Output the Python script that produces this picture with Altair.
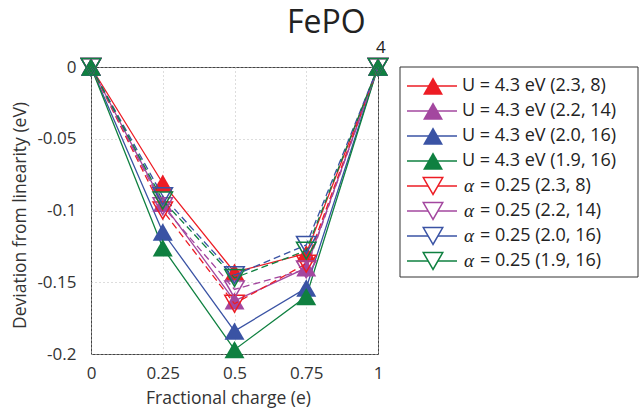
import altair as alt
import pandas as pd

# Fractional charge added to / removed from the cell
charge = [0, 0.25, 0.5, 0.75, 1]

# Series labels (Hubbard U runs first, then alpha runs)
labels = [
    "U = 4.3 eV (2.3, 8)",
    "U = 4.3 eV (2.2, 14)",
    "U = 4.3 eV (2.0, 16)",
    "U = 4.3 eV (1.9, 16)",
    "α = 0.25 (2.3, 8)",
    "α = 0.25 (2.2, 14)",
    "α = 0.25 (2.0, 16)",
    "α = 0.25 (1.9, 16)",
]
kinds = ["U", "U", "U", "U", "alpha", "alpha", "alpha", "alpha"]

# Deviation from linearity (eV) at each fractional charge
u_23_8 = [0, -0.081, -0.143, -0.130, 0]
u_22_14 = [0, -0.095, -0.163, -0.140, 0]
u_20_16 = [0, -0.115, -0.184, -0.154, 0]
u_19_16 = [0, -0.126, -0.197, -0.160, 0]
a_23_8 = [0, -0.100, -0.165, -0.137, 0]
a_22_14 = [0, -0.097, -0.155, -0.141, 0]
a_20_16 = [0, -0.090, -0.145, -0.124, 0]
a_19_16 = [0, -0.093, -0.147, -0.128, 0]
series_values = [u_23_8, u_22_14, u_20_16, u_19_16, a_23_8, a_22_14, a_20_16, a_19_16]

colors = ["#ed1c24", "#a3479f", "#3a53a4", "#0f8040",
          "#ed1c24", "#a3479f", "#3a53a4", "#0f8040"]

x_ticks = [0, 0.25, 0.5, 0.75, 1]
y_ticks = [0, -0.05, -0.1, -0.15, -0.2]

rows = []
for i, (lab, vals) in enumerate(zip(labels, series_values)):
    for q, v in zip(charge, vals):
        rows.append({"series": lab, "idx": i, "kind": kinds[i], "charge": q, "dev": v})
df = pd.DataFrame(rows)

leg_rows = []
for i, lab in enumerate(labels):
    if kinds[i] == "U":
        leg_rows.append({"label": lab, "kind": "U", "prefix": "", "rest": lab})
    else:
        leg_rows.append({"label": lab, "kind": "alpha", "prefix": "α", "rest": lab[2:]})
leg_df = pd.DataFrame(leg_rows)

color_scale = alt.Scale(domain=labels, range=colors)
color = alt.Color("series:N", scale=color_scale, legend=None)

x_enc = alt.X(
    "charge:Q",
    scale=alt.Scale(domain=[0, 1], nice=False, zero=False),
    axis=alt.Axis(values=x_ticks, labelExpr="datum.value + ''",
                  title="Fractional charge (e)", titleY=35, titleX=137,
                  labelPadding=11, labelFlush=False),
)
y_enc = alt.Y(
    "dev:Q",
    scale=alt.Scale(domain=[-0.2, 0], nice=False, zero=False),
    axis=alt.Axis(values=y_ticks, labelExpr="datum.value + ''",
                  title="Deviation from linearity (eV)", titleX=-62, titleY=148,
                  labelPadding=15, labelFlush=False),
)

base = alt.Chart(df)

u_lines = base.transform_filter(alt.datum.kind == "U").mark_line(strokeWidth=1.3).encode(
    x=x_enc, y=y_enc, color=color, order=alt.Order("charge:Q"))
u_points = base.transform_filter(alt.datum.kind == "U").mark_point(
    shape="triangle-up", filled=True, size=400, opacity=1).encode(
    x=x_enc, y=y_enc, color=color)
a_lines = base.transform_filter(alt.datum.kind == "alpha").mark_line(
    strokeWidth=1.3, strokeDash=[7, 4]).encode(
    x=x_enc, y=y_enc, color=color, order=alt.Order("charge:Q"))
a_points = base.transform_filter(alt.datum.kind == "alpha").mark_point(
    shape="triangle-down", filled=False, size=380, strokeWidth=1.5, opacity=1).encode(
    x=x_enc, y=y_enc, color=color)

plot = alt.layer(u_lines, u_points, a_lines, a_points)

# Legend box drawn beside the plot
leg_y = alt.Y("label:N", sort=labels, axis=None,
              scale=alt.Scale(type="point", domain=labels, range=[19, 194], padding=0))
leg_color = alt.Color("label:N", scale=color_scale, legend=None)
leg_base = alt.Chart(leg_df)

leg_box = alt.Chart(alt.Data(values=[{"k": 1}])).mark_rect(
    fill="white", stroke="#333333", strokeWidth=1).encode(
    x=alt.value(309), x2=alt.value(547), y=alt.value(0), y2=alt.value(210))
leg_lines = leg_base.mark_rule(strokeWidth=1.3).encode(
    x=alt.value(316), x2=alt.value(366), y=leg_y, color=leg_color)
leg_up = leg_base.transform_filter(alt.datum.kind == "U").mark_point(
    shape="triangle-up", filled=True, size=400, opacity=1).encode(
    x=alt.value(342), y=leg_y, color=leg_color)
leg_down = leg_base.transform_filter(alt.datum.kind == "alpha").mark_point(
    shape="triangle-down", filled=True, fill="white", size=380, strokeWidth=1.5, opacity=1).encode(
    x=alt.value(342), y=leg_y, stroke=alt.Stroke("label:N", scale=color_scale, legend=None))
leg_text_u = leg_base.transform_filter(alt.datum.kind == "U").mark_text(
    align="left", baseline="middle", fontSize=18, color="#222222").encode(
    x=alt.value(371), y=leg_y, text="rest:N")
leg_alpha = leg_base.transform_filter(alt.datum.kind == "alpha").mark_text(
    align="left", baseline="middle", fontSize=19, font="Liberation Serif",
    fontStyle="italic", color="#222222").encode(
    x=alt.value(373), y=leg_y, text="prefix:N")
leg_text_a = leg_base.transform_filter(alt.datum.kind == "alpha").mark_text(
    align="left", baseline="middle", fontSize=18, color="#222222").encode(
    x=alt.value(389), y=leg_y, text="rest:N")

legend = alt.layer(leg_box, leg_lines, leg_up, leg_down, leg_text_u, leg_alpha, leg_text_a)

# Title: formula with lowered subscript
one = alt.Data(values=[{"k": 1}])
title_main = alt.Chart(one).mark_text(
    align="left", baseline="alphabetic", fontSize=32, color="#222222").encode(
    x=alt.value(196), y=alt.value(-34), text=alt.value("FePO"))
title_sub = alt.Chart(one).mark_text(
    align="left", baseline="alphabetic", fontSize=17, color="#222222").encode(
    x=alt.value(285), y=alt.value(-14), text=alt.value("4"))

chart = alt.layer(
    plot, legend, title_main, title_sub,
).resolve_scale(
    y="independent"
).properties(
    width=287, height=287,
    autosize=alt.AutoSizeParams(type="none"),
    padding={"left": 91, "top": 67, "right": 262, "bottom": 62},
).configure(
    font="Open Sans",
).configure_view(
    stroke="#444444", strokeWidth=1,
).configure_axis(
    grid=True, gridColor="#bbbbbb", gridDash=[1, 3], gridWidth=1,
    domain=False, ticks=False,
    labelFont="Open Sans", labelFontSize=17, labelColor="#333333",
    titleFont="Open Sans", titleFontSize=17.5, titleFontWeight="normal", titleColor="#333333",
)

chart.save("out.html", embed_options={"renderer": "svg", "actions": False})
